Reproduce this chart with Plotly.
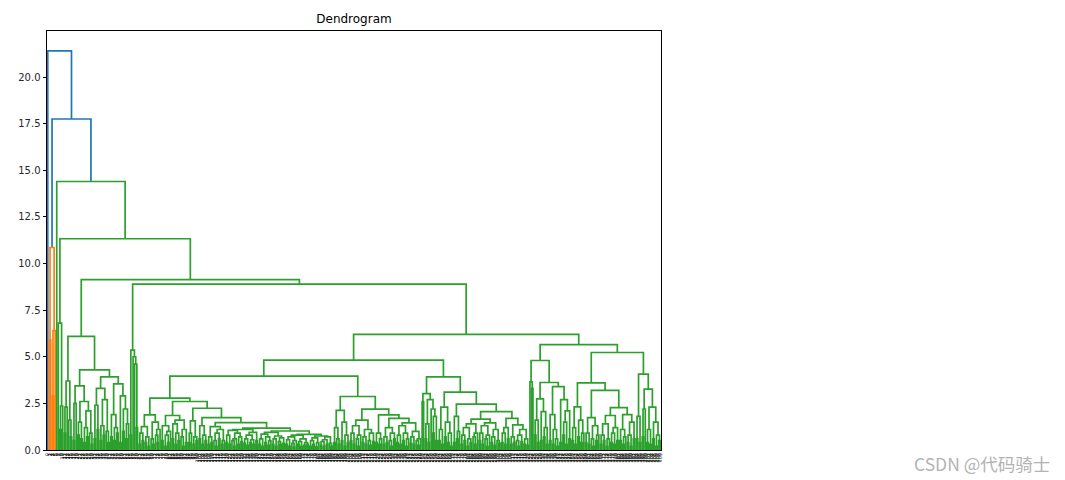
import plotly.graph_objects as go

# merge height between each pair of neighbouring leaves, left to right,
# one list per branch of the tree
far_left = []
orange_cluster = [5.9, 10.86, 2.9, 6.4]
thin_stem = []
stem_6_8 = [6.8, 1.1, 2.36]
branch_g_left = [0.9, 2.3, 3.7, 1.6, 0.7]
branch_h_left = [0.5, 2.5, 3.44, 0.8, 1.5, 0.6, 2.6, 0.4, 1.2, 0.7, 2.1, 0.9, 0.3]
branch_h_right = [0.6, 2.4, 1.1, 3.3, 0.5, 1.3, 0.8, 2.7, 1.0, 0.4, 3.92,
                  0.7, 1.9, 0.5, 1.2, 0.9, 3.55, 0.4, 2.9, 1.0, 2.2, 0.6, 1.4]
spike_5_4 = [0.8, 5.36, 5.0, 4.6, 1.2]
chain_a = [0.3, 0.9, 0.5, 1.25, 0.4, 0.7, 0.2, 1.88, 0.6, 0.3, 1.5, 0.8, 0.4, 1.1, 2.78,
           0.5, 1.3, 0.2, 0.8, 0.4, 1.0, 1.85, 0.6, 1.4, 0.3, 0.9, 0.5, 1.6, 0.7, 0.2, 1.1, 0.4, 2.6,
           0.4, 0.9, 1.56, 0.3, 0.7, 0.5, 2.24,
           0.6, 1.3, 0.3, 0.8, 0.5, 1.74,
           0.3, 0.7, 0.4, 1.25, 0.5, 0.2, 0.9, 0.6, 1.1, 0.3, 0.5]
chain_b = [0.4, 0.8, 0.3, 1.05, 0.5, 0.2, 0.6, 0.9, 0.3, 0.7, 0.45, 1.1, 0.35, 0.6, 0.25, 0.8,
           0.4, 0.55, 0.3, 0.95, 0.5, 1.17,
           0.3, 0.6, 0.2, 0.85, 0.4, 0.7, 0.25, 0.5, 0.95, 0.3, 0.6, 0.2, 0.75, 0.45, 0.3, 0.65,
           0.35, 1.02,
           0.3, 0.55, 0.2, 0.7, 0.35, 0.15, 0.5, 0.8, 0.3, 0.45, 0.2, 0.6, 0.25, 0.4, 0.3, 0.84,
           0.2, 0.5, 0.3, 0.65, 0.15, 0.4, 0.75, 0.25, 0.45, 0.2, 0.55, 0.3, 0.7, 0.35, 0.2]
branch_l_right = [0.4, 1.2, 0.6, 0.3, 2.13, 0.5, 1.5, 0.2, 0.8, 0.4, 2.87,
                  0.5, 0.9, 0.3, 1.3, 0.6, 0.2, 0.8, 1.6, 0.4, 0.7, 0.3, 1.1, 0.5, 0.25, 0.9, 0.45, 2.19,
                  0.4, 0.9, 0.3, 0.6, 1.88,
                  0.3, 0.7, 0.4, 1.2, 0.5, 0.2, 0.9, 0.6, 1.7,
                  0.4, 0.8, 0.3, 1.3, 0.5, 0.9, 0.2, 0.6, 1.45, 0.35, 0.7, 0.3, 1.0, 0.5, 0.25, 0.6]
branch_k_right = [2.6, 3.02, 0.6, 1.4, 0.4, 2.7, 2.2, 0.9, 1.8, 0.5, 3.92,
                  0.5, 1.1, 0.3, 2.3, 0.7, 1.5, 0.4, 0.9, 0.2, 3.1,
                  0.4, 1.8, 0.6, 1.0, 2.46,
                  0.3, 0.8, 0.5, 1.2, 0.2, 0.6, 0.4, 1.4, 0.7, 0.3, 0.9, 1.66,
                  0.5, 0.9, 0.3, 1.3, 0.6, 0.2, 0.8, 1.45, 0.4, 0.7, 0.25, 1.1, 0.5, 0.35, 2.06,
                  0.4, 0.9, 0.3, 1.2, 0.6, 1.7, 0.3, 0.7, 0.4, 1.35, 0.5, 0.2, 0.8, 0.45, 1.1, 0.3,
                  0.6, 0.25]
branch_m_left = [3.65, 3.3, 4.8, 0.8, 1.6, 0.4, 2.74, 0.5, 2.06, 0.7, 1.2, 0.3, 3.62,
                 0.5, 1.9, 0.3, 1.1, 0.6, 0.2, 3.4, 0.4, 2.7, 0.8, 1.5, 0.3, 2.1, 0.6]
branch_m_right = [0.5, 1.2, 0.3, 2.31, 0.7, 1.6, 0.4, 0.9, 3.6,
                  0.4, 0.9, 0.3, 1.74, 0.6, 0.2, 1.3, 0.5, 0.8, 3.2,
                  0.3, 0.8, 0.5, 1.4, 0.2, 0.6, 1.85, 0.4, 0.9, 0.3, 1.2, 0.5, 2.27,
                  0.5, 1.1, 0.3, 0.7, 1.9, 0.4, 0.8, 0.2, 1.5, 0.6, 5.23,
                  0.6, 1.8, 0.4, 4.07, 0.7, 2.2, 3.26, 0.4, 1.1, 0.3, 2.3, 0.6, 1.5, 0.2, 0.8, 0.5]

# heights where the branches above join their right-hand neighbour
joins = [21.4, 17.75, 14.4, 11.33, 6.09, 4.3, 9.14, 8.9, 1.47, 3.96, 4.82, 6.2, 5.65]

branches = [far_left, orange_cluster, thin_stem, stem_6_8, branch_g_left, branch_h_left,
            branch_h_right, spike_5_4, chain_a, chain_b, branch_l_right, branch_k_right,
            branch_m_left, branch_m_right]

gaps = []
for k, b in enumerate(branches):
    gaps += b
    if k < len(joins):
        gaps.append(joins[k])

n_leaves = len(gaps) + 1
leaf_labels = [str(i) for i in range(n_leaves)]

# scipy style colouring
top = max(gaps)
threshold = 0.7 * top
above_col = "#1f77b4"
cycle = ["#ff7f0e", "#2ca02c", "#d62728", "#9467bd", "#8c564b"]
segs = {above_col: ([], [])}
used = [0]


def build(lo, hi, color):
    # leaves lo..hi, the highest gap between them is the node joining them
    if lo == hi:
        return 10 * lo + 5, 0.0
    k = max(range(lo, hi), key=lambda j: gaps[j])
    h = gaps[k]
    if h > threshold:
        node_col, child_col = above_col, None
    else:
        if color is None:
            color = cycle[used[0] % len(cycle)]
            used[0] += 1
        node_col, child_col = color, color
    xl, hl = build(lo, k, child_col)
    xr, hr = build(k + 1, hi, child_col)
    xs, ys = segs.setdefault(node_col, ([], []))
    xs += [xl, xl, xr, xr, None]
    ys += [hl, h, h, hr, None]
    return (xl + xr) / 2, h


build(0, n_leaves - 1, None)

fig = go.Figure()
# blue links first so the coloured clusters sit on top
for col, (xs, ys) in segs.items():
    fig.add_trace(go.Scatter(x=xs, y=ys, mode="lines", line=dict(color=col, width=1.7),
                             hoverinfo="skip", showlegend=False))

axis_line = dict(showline=True, mirror=True, linecolor="black", linewidth=1,
                 showgrid=False, zeroline=False, automargin=False)
fig.update_xaxes(range=[0, 10 * n_leaves], tickmode="array",
                 tickvals=[10 * i + 5 for i in range(n_leaves)], ticktext=leaf_labels,
                 tickangle=-90, ticks="", tickfont=dict(size=5, color="black"), **axis_line)
fig.update_yaxes(range=[0, 1.05 * top], tick0=0, dtick=2.5, tickformat=".1f",
                 ticks="outside", ticklen=3.5, tickwidth=1, tickcolor="black",
                 tickfont=dict(size=10, color="#262626"), **axis_line)

# the page adds a few pixels of body margin, so the margins are trimmed by 7px
fig.update_layout(
    template="none",
    width=1065, height=480,
    margin=dict(l=39, r=412, t=23, b=38),
    paper_bgcolor="white", plot_bgcolor="white",
    font=dict(family="DejaVu Sans"),
    title=dict(text="Dendrogram", x=346 / 1065, xanchor="center",
               y=1 - 11 / 480, yanchor="middle", font=dict(size=12, color="black")),
)
fig.add_annotation(text="CSDN @代码骑士", xref="paper", yref="paper",
                   x=(974 - 39) / 614, y=(442 - 455) / 419, xanchor="center", yanchor="middle",
                   showarrow=False,
                   font=dict(family="Noto Sans CJK SC", size=17.5, color="#b3b3b3"))

fig.write_html("out.html")
